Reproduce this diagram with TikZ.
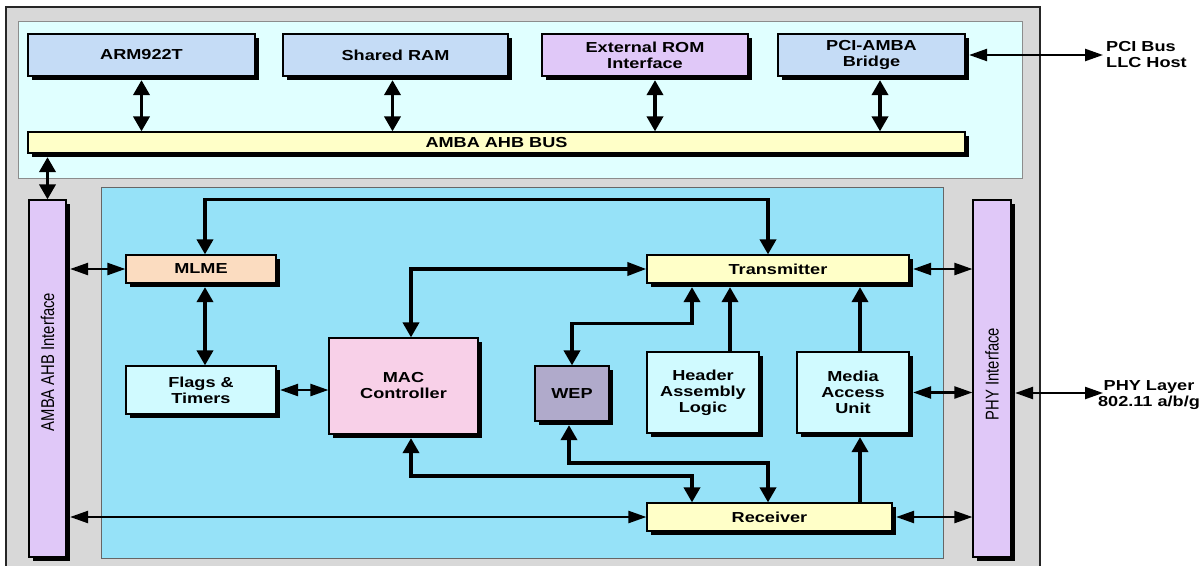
\documentclass[tikz,border=0pt]{standalone}
\usepackage{fontspec}
\setmainfont{Liberation Sans}
\newfontfamily\lblfont{Liberation Sans}[FakeStretch=1.25]
\newfontfamily\vfont{Liberation Sans}[FakeStretch=0.8]
\usetikzlibrary{arrows.meta,shadows}
\definecolor{outergray}{RGB}{216,216,216}
\definecolor{toppanel}{RGB}{224,255,255}
\definecolor{lowpanel}{RGB}{150,226,248}
\definecolor{boxblue}{RGB}{197,220,246}
\definecolor{boxpurple}{RGB}{224,200,248}
\definecolor{boxyellow}{RGB}{255,255,200}
\definecolor{boxpeach}{RGB}{251,220,192}
\definecolor{boxcyan}{RGB}{208,250,255}
\definecolor{boxpink}{RGB}{248,208,232}
\definecolor{boxwep}{RGB}{176,170,203}
\tikzset{
  vt/.tip={Triangle[length=15pt,width=16pt]},
  ht/.tip={Triangle[length=19pt,width=13pt]},
  st/.tip={Triangle[length=18pt,width=12pt]},
  blk/.style={draw=black, line width=1.2pt, inner sep=0pt, align=center,
    font=\lblfont\bfseries\fontsize{14.5}{16}\selectfont,
    drop shadow={shadow xshift=3.5pt, shadow yshift=-3.5pt, opacity=1, fill=black}},
  vlbl/.style={rotate=90, font=\vfont\fontsize{18.5}{20}\selectfont},
  extlbl/.style={inner sep=0pt, font=\lblfont\bfseries\fontsize{14.5}{16}\selectfont},
  thickc/.style={line width=3.6pt},
  thinc/.style={line width=2.3pt},
}
\begin{document}
\begin{tikzpicture}[x=1pt,y=-1pt]
\useasboundingbox (0,0) rectangle (1202,565);
\clip (0,0) rectangle (1202,565);
\fill[white] (0,0) rectangle (1202,565);
% panels
\draw[fill=outergray, draw=black!85, line width=1.6pt] (6,7) rectangle (1040,575);
\draw[fill=toppanel, draw=black!45, line width=1pt] (18,21) rectangle (1022,178);
\draw[fill=lowpanel, draw=black!60, line width=0.8pt] (101,187) rectangle (943,558);
% top boxes
\node[blk, fill=boxblue, minimum width=227pt, minimum height=42pt] (arm) at (141.5,55) {ARM922T};
\node[blk, fill=boxblue, minimum width=225pt, minimum height=42pt] (ram) at (395.5,55) {Shared RAM};
\node[blk, fill=boxpurple, minimum width=206pt, minimum height=42pt] (rom) at (645,55) {External ROM\\Interface};
\node[blk, fill=boxblue, minimum width=187pt, minimum height=42pt] (pci) at (871.5,55) {PCI-AMBA\\Bridge};
\node[blk, fill=boxyellow, minimum width=937pt, minimum height=21pt] (bus) at (496.5,142.5) {AMBA AHB BUS};
% side interfaces
\node[blk, fill=boxpurple, minimum width=37pt, minimum height=357pt] (amba) at (47.5,378.5) {};
\node[vlbl] (ambatxt) at (47.5,362) {AMBA AHB Interface};
\node[blk, fill=boxpurple, minimum width=38pt, minimum height=357pt] (phy) at (992,378.5) {};
\node[vlbl] (phytxt) at (992,374) {PHY Interface};
% inner blocks
\node[blk, fill=boxpeach, minimum width=150pt, minimum height=28pt] (mlme) at (201,269) {MLME};
\node[blk, fill=boxyellow, minimum width=262pt, minimum height=28pt] (tx) at (778,269) {Transmitter};
\node[blk, fill=boxcyan, minimum width=150pt, minimum height=48pt] (flags) at (201,390) {Flags \&\\Timers};
\node[blk, fill=boxpink, minimum width=149pt, minimum height=96pt] (mac) at (403.5,386) {MAC\\Controller};
\node[blk, fill=boxwep, minimum width=74pt, minimum height=55pt] (wep) at (572,393.5) {WEP};
\node[blk, fill=boxcyan, minimum width=112pt, minimum height=81pt] (hdr) at (703,392.5) {Header\\Assembly\\Logic};
\node[blk, fill=boxcyan, minimum width=112pt, minimum height=81pt] (mau) at (853,392.5) {Media\\Access\\Unit};
\node[blk, fill=boxyellow, minimum width=245pt, minimum height=28pt] (rx) at (769.5,517) {Receiver};
% external labels
\node[extlbl, anchor=west, align=left] (pcihost) at (1106,55) {PCI Bus\\LLC Host};
\node[extlbl, align=center] (phylayer) at (1149,395) {PHY Layer\\802.11 a/b/g};
\coordinate (phytip) at (1103,393);
% top connectors
\draw[thickc, vt-vt] ([yshift=-3.5pt]arm.south) -- (arm.south |- bus.north);
\draw[thickc, vt-vt] ([xshift=-3pt,yshift=-3.5pt]ram.south) -- ([xshift=-3pt]ram.south |- bus.north);
\draw[thickc, vt-vt] ([xshift=10pt,yshift=-3.5pt]rom.south) -- ([xshift=10pt]rom.south |- bus.north);
\draw[thickc, vt-vt] ([xshift=8.5pt,yshift=-3.5pt]pci.south) -- ([xshift=8.5pt]pci.south |- bus.north);
\draw[thickc, vt-vt] ([yshift=-3.5pt]amba.north |- bus.south) -- (amba.north);
\draw[thinc, st-st] ([xshift=3.5pt]pci.east) -- ([xshift=-3pt]pcihost.west);
% left side connectors
\draw[thinc, st-st] ([xshift=3.5pt]amba.east |- mlme.west) -- (mlme.west);
\draw[thinc, st-st] ([xshift=3.5pt]amba.east |- rx.west) -- (rx.west);
\draw[thickc, vt-vt] ([xshift=4pt]mlme.north) -- ++(0,-55) -| ([xshift=-10pt]tx.north);
\draw[thickc, vt-vt] ([xshift=4pt,yshift=-3.5pt]mlme.south) -- ([xshift=4pt]flags.north);
\draw[thinc, st-st] ([xshift=3.5pt]flags.east) -- (flags.east -| mac.west);
% transmitter connectors
\draw[thickc, arrows={ht-vt}] (tx.west) -| ([xshift=7.5pt]mac.north);
\draw[thickc, vt-vt] (wep.north) -- ++(0,-42) -| ([xshift=-86pt,yshift=-3.5pt]tx.south);
\draw[thickc, -vt] ([xshift=27pt]hdr.north) -- ([xshift=-48pt,yshift=-3.5pt]tx.south);
\draw[thickc, -vt] ([xshift=7pt]mau.north) -- ([xshift=82pt,yshift=-3.5pt]tx.south);
\draw[thinc, st-st] ([xshift=3.5pt]tx.east) -- (tx.east -| phy.west);
\draw[thinc, st-st] ([xshift=3.5pt]mau.east) -- (mau.east -| phy.west);
% receiver connectors
\draw[thickc, -vt] ([xshift=90.5pt]rx.north) -- ([xshift=7pt,yshift=-3.5pt]mau.south);
\draw[thinc, st-st] ([xshift=3.5pt]rx.east) -- (rx.east -| phy.west);
\draw[thickc, vt-vt] ([xshift=7.5pt,yshift=-3.5pt]mac.south) -- ++(0,38) -| ([xshift=-77.5pt]rx.north);
\draw[thickc, vt-vt] ([xshift=-3pt,yshift=-3.5pt]wep.south) -- ++(0,38) -| ([xshift=-1.5pt]rx.north);
\draw[thinc, st-st] ([xshift=3.5pt]phy.east |- phytip) -- (phytip);
\end{tikzpicture}
\end{document}
